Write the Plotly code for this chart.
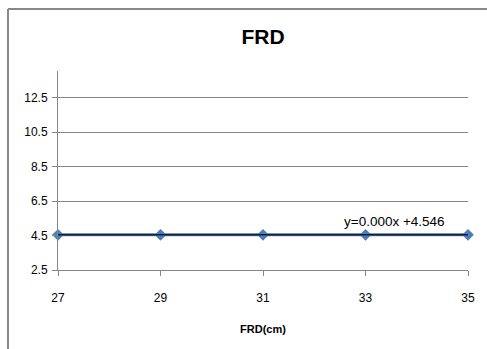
import plotly.graph_objects as go

x_vals = [27, 29, 31, 33, 35]
y_vals = [4.546, 4.546, 4.546, 4.546, 4.546]
trend_slope = 0.000
trend_intercept = 4.546
y_ticks = [2.5, 4.5, 6.5, 8.5, 10.5, 12.5]
x_ticks = [27, 29, 31, 33, 35]
title_text = "FRD"
x_title = "FRD(cm)"
trend_label = "y=0.000x +4.546"

trend_y = [trend_slope * v + trend_intercept for v in x_vals]

fig = go.Figure()
fig.add_trace(go.Scatter(
    x=x_vals, y=y_vals, mode="lines+markers",
    line=dict(color="#4a7ebb", width=3),
    marker=dict(symbol="diamond", size=9, color="#4a7ebb"),
    showlegend=False, cliponaxis=False,
))
fig.add_trace(go.Scatter(
    x=[x_vals[0], x_vals[-1]], y=[trend_y[0], trend_y[-1]], mode="lines",
    line=dict(color="#1a1a2e", width=1.6),
    showlegend=False, cliponaxis=False,
))

fig.add_annotation(
    x=32.55, y=4.546, yshift=13, text=trend_label, showarrow=False,
    font=dict(family="Liberation Sans, Arial", size=13.5, color="#000"),
    xanchor="left", yanchor="middle",
)

# outer chart border (partially clipped by the window)
fig.add_shape(type="line", xref="paper", yref="paper",
              x0=-0.122, x1=-0.122, y0=-0.5, y1=1.3116,
              line=dict(color="#888888", width=2))
fig.add_shape(type="line", xref="paper", yref="paper",
              x0=-0.122, x1=1.2, y0=1.3116, y1=1.3116,
              line=dict(color="#888888", width=2))

fig.update_layout(
    width=487, height=349,
    margin=dict(l=58, r=19, t=71, b=79),
    paper_bgcolor="white", plot_bgcolor="white",
    title=dict(text="<b>" + title_text + "</b>", x=0.5, xanchor="center",
               xref="paper", y=1 - 37 / 349, yanchor="middle",
               font=dict(family="Liberation Sans, Arial", size=21, color="#000")),
    font=dict(family="Liberation Sans, Arial", size=12, color="#000"),
)
fig.update_xaxes(
    range=[27, 35], tickvals=x_ticks, ticks="outside", ticklen=5,
    tickcolor="#868686", showline=True, linecolor="#868686", linewidth=1,
    showgrid=False, zeroline=False, ticklabelstandoff=12,
    title=dict(text="<b>" + x_title + "</b>", font=dict(size=11), standoff=20),
    tickfont=dict(size=12),
)
fig.update_yaxes(
    range=[2.5, 14.06], tickvals=y_ticks, ticktext=[str(v) for v in y_ticks],
    ticks="outside", ticklen=5, tickcolor="#868686",
    showline=True, linecolor="#868686", linewidth=1,
    showgrid=True, gridcolor="#868686", gridwidth=1, zeroline=False,
    tickfont=dict(size=12), ticklabelstandoff=2,
)

fig.write_html("out.html")
